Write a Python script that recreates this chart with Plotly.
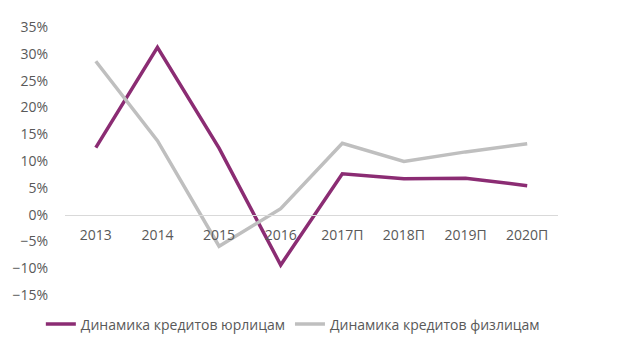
import plotly.graph_objects as go

categories = ["2013", "2014", "2015", "2016", "2017П", "2018П", "2019П", "2020П"]
corp = [0.125, 0.312, 0.124, -0.094, 0.076, 0.067, 0.068, 0.054]
retail = [0.286, 0.138, -0.059, 0.011, 0.133, 0.099, 0.117, 0.132]
y_ticks = [-0.15, -0.10, -0.05, 0.0, 0.05, 0.10, 0.15, 0.20, 0.25, 0.30, 0.35]

font_family = "Open Sans, Noto Sans, sans-serif"
text_color = "#595959"

fig = go.Figure()
fig.add_trace(go.Scatter(x=categories, y=corp, mode="lines", name="Динамика кредитов юрлицам",
                         line=dict(color="#8B2C73", width=3.5)))
fig.add_trace(go.Scatter(x=categories, y=retail, mode="lines", name="Динамика кредитов физлицам",
                         line=dict(color="#BFBFBF", width=3.5)))

fig.update_layout(
    width=631, height=352,
    margin=dict(l=60, r=73, t=27, b=53),
    paper_bgcolor="white", plot_bgcolor="white",
    font=dict(family=font_family, size=14, color=text_color),
    showlegend=True,
    legend=dict(orientation="h", x=-0.049, xanchor="left", y=-0.11, yanchor="middle",
                font=dict(size=14, color=text_color), itemwidth=30, tracegroupgap=0),
    xaxis=dict(type="category", range=[-0.5, 7.5], anchor="free", position=0.3,
               showline=True, linecolor="#D9D9D9", linewidth=1, showgrid=False,
               ticks="", ticklabelstandoff=8, tickfont=dict(size=14, color=text_color), zeroline=False),
    yaxis=dict(range=[-0.15, 0.35], tickvals=y_ticks, tickformat=".0%", showgrid=False,
               zeroline=False, showline=False, ticks="", ticklabelstandoff=16,
               tickfont=dict(size=14, color=text_color)),
)

fig.write_html("out.html")
